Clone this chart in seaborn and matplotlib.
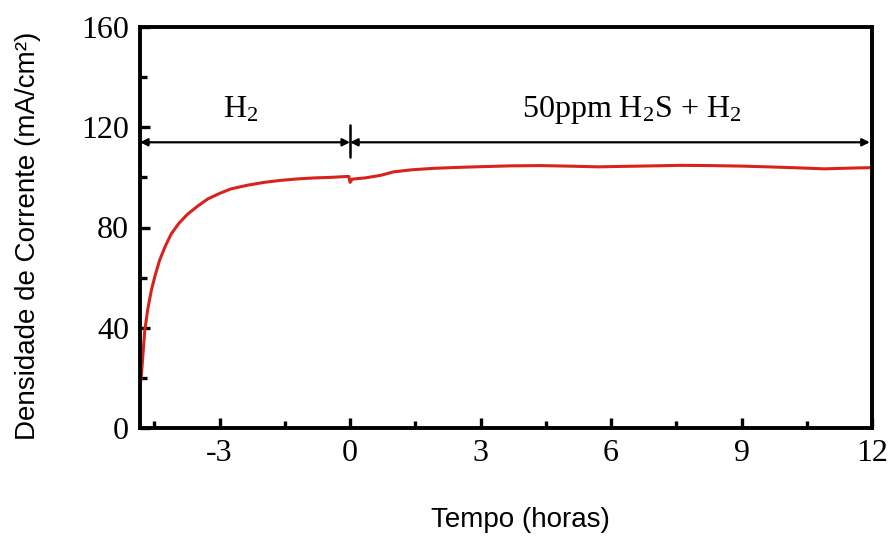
import matplotlib
matplotlib.use("Agg")
import matplotlib.pyplot as plt
import seaborn as sns
import pandas as pd
from matplotlib.ticker import MultipleLocator

# Curva de densidade de corrente
tempo_h = [-4.83, -4.80, -4.76, -4.72, -4.65, -4.57, -4.48, -4.38, -4.25, -4.11,
           -3.93, -3.73, -3.50, -3.27, -3.00, -2.74, -2.35, -1.98, -1.60, -1.20,
           -0.80, -0.44, -0.03, 0.0, 0.05, 0.35, 0.7, 1.0, 1.4, 1.92,
           2.5, 3.07, 3.7, 4.38, 5.0, 5.7, 6.3, 7.0, 7.6, 8.3,
           9.0, 9.6, 10.3, 10.9, 11.5, 12.0]
densidade = [17.0, 20.4, 30.0, 39.0, 47.5, 54.9, 61.0, 66.9, 72.5, 77.5,
             81.8, 85.4, 88.6, 91.4, 93.6, 95.4, 96.9, 98.0, 98.8, 99.4,
             99.8, 100.0, 100.4, 98.0, 99.3, 99.8, 100.8, 102.2, 103.0, 103.6,
             104.0, 104.3, 104.6, 104.7, 104.5, 104.2, 104.4, 104.6, 104.8, 104.7,
             104.5, 104.2, 103.8, 103.4, 103.7, 103.9]

xlim = (-4.83, 12)
ylim = (0, 160)
xticks = [-3, 0, 3, 6, 9, 12]
yticks = [0, 40, 80, 120, 160]
seta_y = 114
label_h2 = "H$_2$"
label_h2s = "50ppm H$_2$S + H$_2$"

df = pd.DataFrame({"tempo": tempo_h, "densidade": densidade})

sns.set_theme(style="white")
plt.rcParams["font.family"] = ["Liberation Serif", "DejaVu Serif"]
plt.rcParams["mathtext.fontset"] = "custom"
plt.rcParams["mathtext.rm"] = "Liberation Serif"
plt.rcParams["mathtext.default"] = "rm"
plt.rcParams["axes.unicode_minus"] = False
for k in ["text.color", "axes.labelcolor", "xtick.color", "ytick.color"]:
    plt.rcParams[k] = "black"

fig = plt.figure(figsize=(8.91, 5.36), dpi=100)
ax = fig.add_axes([140 / 891, 1 - 428 / 536, (872 - 140) / 891, (428 - 27) / 536])

sns.lineplot(data=df, x="tempo", y="densidade", ax=ax, color="#d8231a", lw=2.2,
             estimator=None, sort=False)

ax.set_xlim(*xlim)
ax.set_ylim(*ylim)
ax.set_xticks(xticks)
ax.set_yticks(yticks)
ax.xaxis.set_minor_locator(MultipleLocator(1.5))
ax.yaxis.set_minor_locator(MultipleLocator(20))
ax.tick_params(which="both", direction="in", top=False, right=False,
               bottom=True, left=True, width=2.4, color="black")
ax.tick_params(which="major", length=7, labelsize=23, pad=8)
ax.tick_params(which="minor", length=5)
for s in ax.spines.values():
    s.set_linewidth(2.8)
    s.set_color("black")

ax.set_xlabel("Tempo (horas)", family="Liberation Sans", fontsize=20)
ax.set_ylabel("Densidade de Corrente (mA/cm²)", family="Liberation Sans", fontsize=20)
ax.xaxis.set_label_coords(0.52, -0.198)
ax.yaxis.set_label_coords(-0.135, 0.48)

# setas das regiões
arrow = dict(arrowstyle="<|-|>", color="black", lw=1.6, mutation_scale=11,
             shrinkA=0, shrinkB=0)
ax.annotate("", xy=(xlim[0], seta_y), xytext=(0, seta_y), arrowprops=arrow)
ax.annotate("", xy=(0, seta_y), xytext=(xlim[1] - 0.05, seta_y), arrowprops=arrow)
ax.plot([0, 0], [108, 121], color="black", lw=1.8)

ax.text(-2.52, 124, label_h2, fontsize=23, ha="center", va="baseline")
ax.text(6.47, 124, label_h2s, fontsize=23, ha="center", va="baseline")

fig.savefig("out.png", dpi=100)
